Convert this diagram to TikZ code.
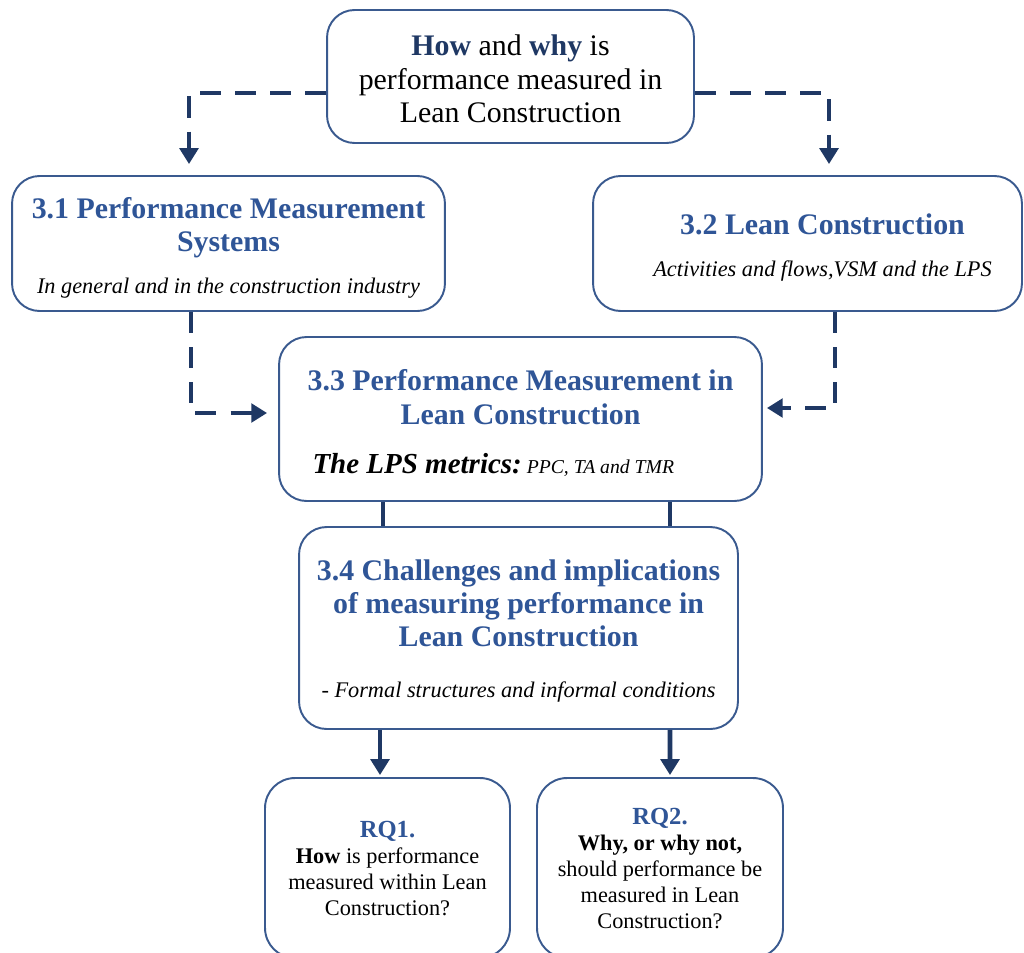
\documentclass[tikz,border=0pt]{standalone}
\usepackage{fontspec}
\setmainfont{Liberation Serif}
\usetikzlibrary{calc,arrows.meta}

\definecolor{navy}{HTML}{1F3864}
\definecolor{edgeblue}{HTML}{3A5A8F}
\definecolor{headblue}{HTML}{2F5597}

% text styles
\newcommand\hdfont{\fontsize{17}{19}\selectfont\bfseries\color{headblue}}
\newcommand\subfont{\fontsize{12.7}{19}\selectfont\itshape}
\newcommand\rqfont{\fontsize{14}{14.7}\selectfont\bfseries\color{headblue}}

\tikzset{
  box/.style={draw=edgeblue, line width=1.1pt, rounded corners=0.55cm,
    fill=white, inner sep=0pt},
  txt/.style={align=center, inner sep=0pt, font=\fontsize{17}{19}\selectfont},
  rqtxt/.style={align=center, inner sep=0pt, font=\fontsize{12.7}{14.7}\selectfont},
  flowdash/.style={draw=navy, line width=2.6pt, dash pattern=on 12pt off 8pt},
  flowline/.style={draw=navy, line width=2.6pt},
  tip/.style={-{Triangle[width=10.5pt,length=9pt]}},
}

\begin{document}
\begin{tikzpicture}[x=0.02cm,y=-0.02cm]
  \fill[white] (0,0) rectangle (1024,953);
  \useasboundingbox (0,0) rectangle (1024,953);

  % frames
  \node[box, minimum width=7.34cm, minimum height=2.66cm] (top) at (510.5,76.5) {};
  \node[box, minimum width=8.66cm, minimum height=2.7cm]  (b31) at (228.5,243.5) {};
  \node[box, minimum width=8.58cm, minimum height=2.7cm]  (b32) at (807.5,243.5) {};
  \node[box, minimum width=9.66cm, minimum height=3.28cm] (b33) at (520.5,419) {};
  \node[box, minimum width=8.78cm, minimum height=4.04cm] (b34) at (518.5,628) {};
  \node[box, rounded corners=0.6cm, minimum width=4.9cm, minimum height=3.6cm]
    (rq1) at (387.5,868) {};
  \node[box, rounded corners=0.6cm, minimum width=4.92cm, minimum height=3.6cm]
    (rq2) at (660,868) {};

  % question
  \node[txt] (toptxt) at ($(top.center)+(0,2.5)$)
    {{\color{navy}\bfseries How} and {\color{navy}\bfseries why} is\\
     performance measured in\\ Lean Construction};

  % chapter sections
  \node[txt] (b31txt) at ($(b31.center)+(0,4.5)$)
    {{\hdfont 3.1 Performance Measurement}\\{\hdfont Systems}\\[5pt]
     {\subfont In general and in the construction industry}};

  \node[txt] (b32txt) at ($(b32.center)+(15,4)$)
    {{\hdfont 3.2 Lean Construction}\\[4.4pt]
     {\subfont Activities and flows,VSM and the LPS}};

  \node[txt] (b33txt) at ($(b33.center)+(0,4)$)
    {{\hdfont 3.3 Performance Measurement in}\\{\hdfont Lean Construction}\\[8.9pt]
     {\fontsize{16.5}{19}\selectfont\bfseries\itshape The LPS metrics:}\,{\fontsize{11.2}{19}\selectfont\itshape PPC, TA and TMR}\hspace*{31pt}};

  \node[txt] (b34txt) at ($(b34.center)+(0,3)$)
    {{\hdfont 3.4 Challenges and implications}\\
     {\hdfont of measuring performance in}\\
     {\hdfont Lean Construction}\\[10pt]
     {\subfont - Formal structures and informal conditions}};

  % research questions
  \node[rqtxt] (rq1txt) at ($(rq1.center)+(0,0.5)$)
    {{\rqfont RQ1.}\\ {\bfseries How} is performance\\ measured within Lean\\ Construction?};

  \node[rqtxt] (rq2txt) at ($(rq2.center)+(0,0.5)$)
    {{\rqfont RQ2.}\\ {\bfseries Why, or why not,}\\ should performance be\\
     measured in Lean\\ Construction?};

  % dashed feeds
  \draw[flowdash,tip] ($(top.west)+(0,16.5)$) -| ($(b31.north)+(-39.5,-11)$);
  \draw[flowdash,tip] ($(top.east)+(0,16.5)$) -| ($(b32.north)+(21.5,-11)$);
  \draw[flowdash,tip] ($(b31.south)+(-37.5,0)$) |- ($(b33.west)+(-11,-6)$);
  \draw[flowdash,tip] ($(b32.south)+(27.5,0)$) |- ($(b33.east)+(4,-11)$);

  % solid links
  \draw[flowline] ($(b33.south)+(-137.5,0)$) -- ($(b34.north)+(-135.5,0)$);
  \draw[flowline] ($(b33.south)+(149.5,0)$) -- ($(b34.north)+(151.5,0)$);
  \draw[flowline,tip] ($(b34.south)+(-138.5,0)$) -- ($(rq1.north)+(-7.5,-2)$);
  \draw[flowline,tip] ($(b34.south)+(151.5,0)$) -- ($(rq2.north)+(10,-2)$);
\end{tikzpicture}
\end{document}
